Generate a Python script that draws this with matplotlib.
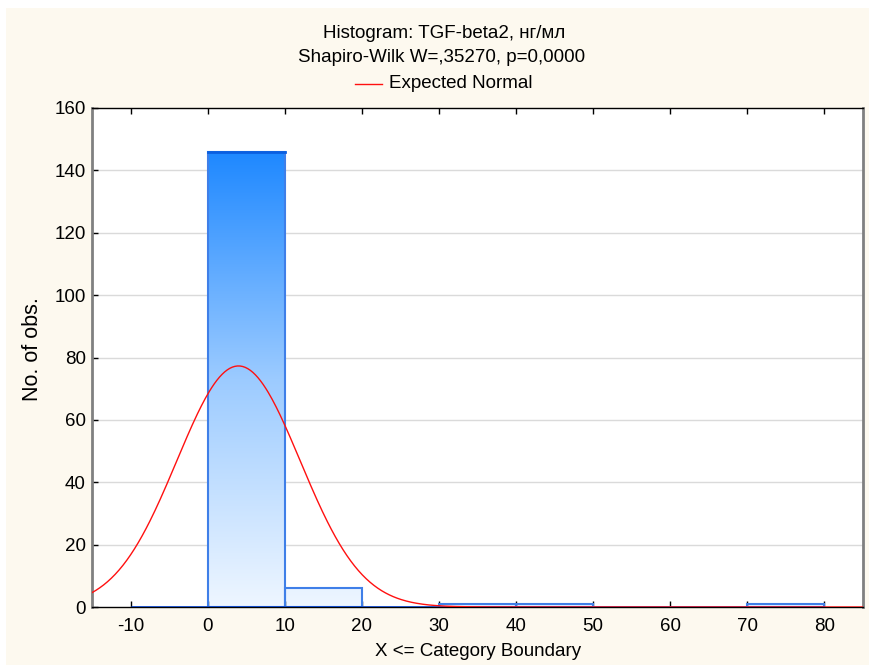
import numpy as np
import matplotlib
matplotlib.use("Agg")
import matplotlib.pyplot as plt
from matplotlib.colors import LinearSegmentedColormap
from matplotlib.patches import Rectangle

plt.rcParams['font.family'] = ['Liberation Sans', 'DejaVu Sans']
plt.rcParams['axes.unicode_minus'] = False

# Data
bin_edges = [-10, 0, 10, 20, 30, 40, 50, 60, 70, 80]
counts = [0, 146, 6, 0, 1, 1, 0, 0, 1]
normal_mean = 4.0
normal_sd = 8.0
n_obs = 155
x_ticks = [-10, 0, 10, 20, 30, 40, 50, 60, 70, 80]
y_ticks = [0, 20, 40, 60, 80, 100, 120, 140, 160]
title1 = "Histogram: TGF-beta2, нг/мл"
title2 = "Shapiro-Wilk W=,35270, p=0,0000"
legend_label = "Expected Normal"
xlabel = "X <= Category Boundary"
ylabel = "No. of obs."

W, H = 869, 668
fig = plt.figure(figsize=(W/100, H/100), dpi=100)
fig.patch.set_facecolor('white')
bg = Rectangle((6/W, 3/H), (W-6)/W, (H-8-3)/H, transform=fig.transFigure,
               facecolor='#FDF9EF', edgecolor='none', zorder=-10)
fig.patches.append(bg)

ax = fig.add_axes([92/W, 1-607/H, (863-92)/W, (607-108)/H])
ax.set_facecolor('white')
ax.set_xlim(-15, 85)
ax.set_ylim(0, 160)

for y in y_ticks[1:-1]:
    ax.axhline(y, color='#DADADA', lw=1, zorder=0)

cmap = LinearSegmentedColormap.from_list('bl', ['#EEF6FF', '#9CCBFF', '#1E88FF'])
ymax = max(counts)
for i, c in enumerate(counts):
    x0, x1 = bin_edges[i], bin_edges[i+1]
    if c > 0:
        im = ax.imshow(np.linspace(0, c/ymax, 256).reshape(-1, 1), cmap=cmap, vmin=0, vmax=1,
                       extent=[x0, x1, 0, c], origin='lower', aspect='auto', zorder=1,
                       interpolation='bilinear')
        rect = Rectangle((x0, 0), x1-x0, c, facecolor='none',
                         edgecolor='#3F7FE8', lw=1.5, zorder=2)
        ax.add_patch(rect)
        im.set_clip_path(rect)
        if c == ymax:
            ax.plot([x0, x1], [c, c], color='#0A5FE0', lw=2, zorder=3)
    ax.plot([x0, x1], [0, 0], color='#1048C8', lw=2, zorder=3, solid_capstyle='butt')

xs = np.linspace(-15, 85, 600)
binw = bin_edges[1] - bin_edges[0]
ys = n_obs * binw * np.exp(-0.5*((xs-normal_mean)/normal_sd)**2) / (normal_sd*np.sqrt(2*np.pi))
ax.plot(xs, ys, color='#FF1010', lw=1, zorder=4)

ax.set_xticks(x_ticks)
ax.set_yticks(y_ticks)
ax.tick_params(direction='in', length=4, width=1, labelsize=13.5, colors='black', top=True)
ax.tick_params(axis='x', pad=8)
ax.tick_params(axis='y', pad=4.5)
for s in ['left', 'right']:
    ax.spines[s].set_color('#808080')
    ax.spines[s].set_linewidth(2)
for s in ['top', 'bottom']:
    ax.spines[s].set_color('black')
    ax.spines[s].set_linewidth(1)

fig.text(478/W, 1-652/H, xlabel, ha='center', va='center', fontsize=13.5)
fig.text(32/W, 1-349/H, ylabel, ha='center', va='center', fontsize=15.5, rotation=90)

fig.text(444/W, 1-33/H, title1, ha='center', va='center', fontsize=13.5)
fig.text(442/W, 1-58/H, title2, ha='center', va='center', fontsize=13.5)
fig.lines.append(plt.Line2D([355/W, 382/W], [1-84/H, 1-84/H], transform=fig.transFigure,
                            color='#FF1010', lw=1))
fig.text(389/W, 1-84/H, legend_label, ha='left', va='center', fontsize=13.5)

fig.savefig('out.png', dpi=100, facecolor=fig.get_facecolor())
